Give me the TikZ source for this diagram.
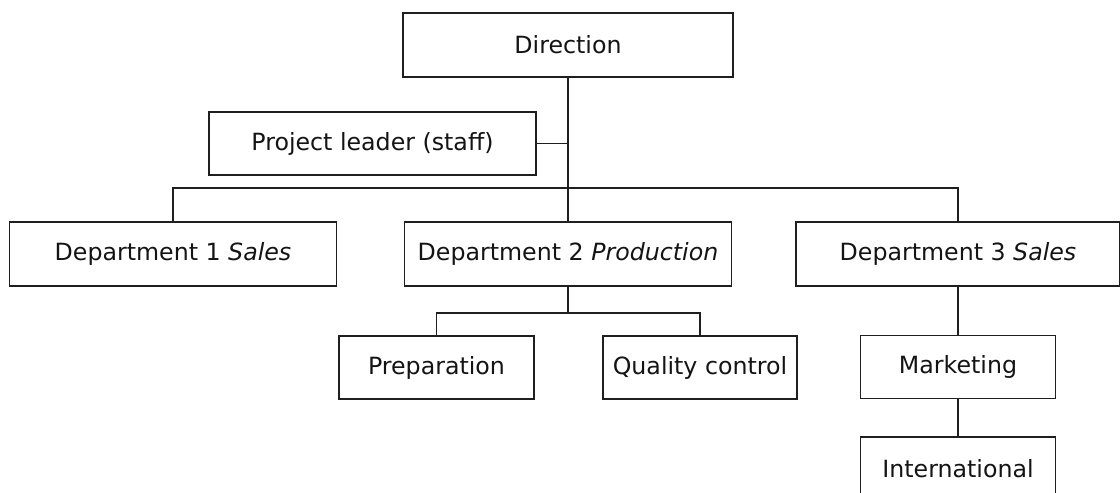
\documentclass[tikz,border=0pt]{standalone}
\usepackage{fontspec}
\setmainfont{DejaVu Sans}
\begin{document}
\begin{tikzpicture}[x=1pt,y=-1pt,
  box/.style={draw=black!88, line width=1.6pt, fill=white, inner sep=0pt, align=center,
    font=\fontsize{23.7}{28}\selectfont, text=black!92},
  wide/.style={box, minimum width=327pt, minimum height=64pt},
  small/.style={box, minimum width=195pt, minimum height=63pt},
  link/.style={draw=black!88, line width=1.8pt}]
\useasboundingbox (0,0) rectangle (1120,493);
\clip (0,0) rectangle (1120,493);
\node[wide, minimum width=330pt] (dir) at (568,45) {Direction};
\node[wide, minimum height=63pt] (pl) at (372.5,143.5) {Project leader (staff)};
\node[wide] (d1) at (173,254) {Department 1 \textit{Sales}};
\node[wide] (d2) at (568,254) {Department 2 \textit{Production}};
\node[wide, minimum width=324pt] (d3) at (958,254) {Department 3 \textit{Sales}};
\node[small] (prep) at (436.5,367.5) {Preparation};
\node[small, minimum width=194pt] (qc) at (700,367.5) {Quality control};
\node[small] (mkt) at (958,367) {Marketing};
\node[small] (intl) at (958,468.5) {International};
\coordinate (bus) at (568,188);
\coordinate (sub) at (568,313);
\draw[link] (dir.south) -- (bus);
\draw[link] (pl.east) -- (pl.east -| bus);
\draw[link] (d1.north) |- (bus) -| (d3.north);
\draw[link] (bus) -- (d2.north);
\draw[link] (d2.south) -- (sub);
\draw[link] (prep.north) |- (sub) -| (qc.north);
\draw[link] (d3.south) -- (mkt.north);
\draw[link] (mkt.south) -- (intl.north);
\end{tikzpicture}
\end{document}
